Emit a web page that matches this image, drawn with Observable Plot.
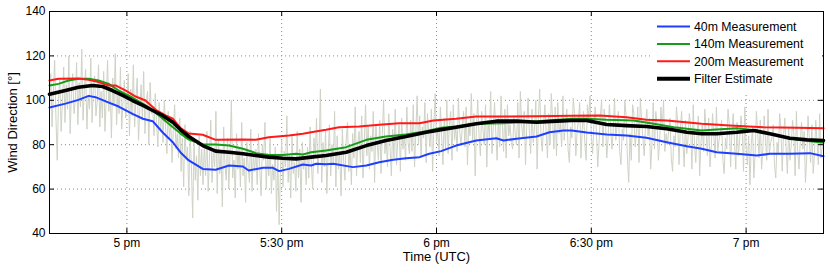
<!DOCTYPE html>
<html><head><meta charset="utf-8">
<script src="https://cdn.jsdelivr.net/npm/d3@7"></script>
<script src="https://cdn.jsdelivr.net/npm/@observablehq/plot@0.6"></script>
<style>body{margin:0;background:#fff}svg{display:block}</style>
</head><body><div id="chart"></div>
<script>
// ---- data (minutes after the start time, UTC) ----
const startTime = [16, 45];   // 4:45 pm UTC
const endTime = [19, 15];     // 7:15 pm UTC
const rawStepMin = 0.25;
const rawDirection = [
  95,112,88,104,118,92,73,101,110,86,99,115,90,107,96,120,85,103,112,94,
  100,117,89,108,97,123,91,105,114,87,102,96,119,90,106,111,93,100,116,88,
  104,92,113,86,101,118,95,107,83,110,98,121,89,103,94,115,87,100,109,92,
  97,112,84,105,93,116,88,101,110,82,96,107,91,113,85,99,104,80,108,94,
  97,84,103,90,79,99,86,94,81,100,88,76,95,83,91,72,87,98,78,85,
  74,92,68,83,61,89,73,79,57,86,70,47,82,64,75,55,84,66,78,62,
  80,66,86,59,74,91,63,78,70,95,58,82,67,76,52,88,71,64,83,60,
  77,100,65,73,56,85,69,79,61,90,66,74,54,81,70,63,87,59,76,68,
  78,62,85,69,57,80,73,90,60,76,66,83,58,71,64,79,50,74,44,68,
  82,61,77,70,93,63,75,56,84,67,72,59,86,65,78,54,81,69,74,62,
  79,65,88,71,60,83,74,92,67,78,105,63,81,70,86,58,76,89,66,80,
  72,95,61,84,69,77,57,87,73,64,82,90,68,79,62,85,74,97,66,81,
  86,72,93,65,81,98,75,88,69,84,77,95,63,89,80,73,91,67,85,100,
  76,83,70,94,79,66,87,74,96,71,82,89,68,92,78,85,73,97,81,76,
  91,77,98,70,86,102,80,93,74,88,83,99,72,94,85,79,96,68,90,103,
  81,87,75,97,84,71,92,78,100,76,89,95,73,98,82,88,77,101,86,80,
  88,95,79,97,71,90,84,103,82,94,66,89,100,84,75,95,87,80,98,70,
  91,83,104,76,88,99,85,73,93,79,102,90,77,96,74,98,84,89,81,78,
  93,85,80,99,74,104,89,83,95,71,90,101,85,76,96,81,88,100,69,92,
  105,84,77,89,98,86,74,94,80,103,91,78,97,75,99,85,90,79,102,82,
  90,96,78,72,88,83,101,94,75,86,91,99,74,87,95,80,73,98,92,102,
  84,76,89,97,85,70,81,93,100,79,96,90,74,83,98,88,78,86,101,82,
  89,95,77,71,87,82,100,93,74,63,85,73,98,94,79,86,97,72,101,91,
  83,75,88,96,84,92,69,80,99,78,95,89,73,82,97,87,100,77,85,80,
  86,92,74,68,84,79,97,90,71,87,95,82,70,91,76,83,94,88,69,98,
  80,72,85,93,66,81,89,77,96,86,75,92,70,79,94,84,74,97,77,82,
  85,91,73,67,83,78,96,89,70,86,94,81,69,90,75,82,93,87,68,97,
  79,71,84,62,80,88,65,76,95,85,74,91,69,78,93,83,73,96,76,81,
  83,89,71,65,81,76,94,87,68,84,92,79,67,88,73,80,91,85,66,95,
  77,69,82,90,78,86,63,74,93,83,72,89,67,76,91,81,71,94,74,79,80
];
const t40 = [0,3.1,5.6,7.6,8.9,10.9,13.4,16.1,18.1,20,21.9,23.9,25.4,27,29.7,32.2,34.8,37.5,38.6,41.4,43.3,44.5,46.4,49.1,50.7,51.7,53.6,55,58.8,61.4,63.9,66.6,69.1,71.7,73.6,75.9,78.8,82.7,86.6,88,90.5,94.4,96.9,99.6,101.2,104.1,108,111.8,115.7,119.6,123.5,126.4,129.3,133.2,137.1,139.6,143.5,147.4,150];
const v40 = [96.8,98.5,100.2,102,101.4,99.5,97.2,93.9,91.7,90.6,85.6,81.1,76.5,72.9,69.1,68.7,70.6,70.2,68.4,69.6,69.6,68.1,69.1,71.1,70.6,71.4,71.2,71.4,69.9,70.6,72.1,73.2,73.9,74.4,75.9,77.1,79.6,81.9,82.9,81.9,82.7,83.7,85.6,86.4,86.4,85.5,84.6,84.1,83.1,81.1,79.3,78.2,76.6,75.9,75.1,75.9,75.9,76.2,74.8];
const t140 = [0,1.75,3.7,5.6,7.6,9.5,11.5,13.4,15.3,17.3,19.2,21.2,23.1,25.4,27,29.7,32.2,34.8,37.5,40,42.5,45.2,47.8,49.1,50.7,53.6,57.5,61.4,65.2,69.1,73,75.9,78.8,82.7,88,94.4,101.2,104.1,108,113.2,117.1,121,126.4,129.3,133.2,137.1,141,144.9,150];
const v140 = [106.7,107.4,108.9,109.7,109.7,108.9,107.4,104.4,102.2,99.5,96.9,93.2,89.4,85,82.3,80.1,80.1,79.6,78.2,76.2,75.4,75.4,75.9,75.6,76.6,77.4,78.9,82.2,83.7,84.6,86.1,87.6,88.2,89.4,89.7,90.6,91.7,91.7,91.2,90.9,89.4,87.9,86.4,86.8,87.4,86.4,84.3,82.2,80.9];
const t200 = [0,1.75,5.6,7.6,9.5,11.5,12.8,14.8,16.7,18.6,20.6,22.5,23.9,25.4,27,29.7,32.2,37.5,40,42.5,46.4,49.1,50.7,53.6,56.1,60,63.9,67.8,71.7,74.4,78.8,82.7,88,94.4,101.2,106.6,111.8,115.7,119.6,126.4,131.8,138.4,144.9,150];
const v200 = [108.9,109.7,109.8,109.2,108.2,106.7,106.7,104.4,101.7,99.9,95.7,93.2,91.7,87.5,85,84.5,82.2,82.3,82.2,83.4,84.1,84.9,85.6,86.7,87.9,88.2,89,89.7,89.7,90.9,91.7,92.7,92.7,92.8,93,93.2,92.4,91.2,90.9,89.4,88.6,87.9,87.6,87.4];
const tFilter = [0,3.1,5.6,8.3,10.3,12.2,14.2,16.1,18.1,20,21.9,23.9,25.4,27,29.7,32.2,34.8,37.5,40,42.5,45.2,47.8,50.7,53.6,57.5,61.4,65.2,69.1,73,75.9,78.8,82.7,86.6,90.5,94.4,98.3,101.2,104.1,108,111.8,115.7,119.6,123.5,126.4,129.3,133.2,136.5,139.6,143.5,146.8,150];
const vFilter = [102.7,104.4,105.9,106.7,106.2,104.4,102.2,99.9,97.7,95.4,93.2,90.1,86.7,83.7,79.6,77.1,76.6,75.9,75.1,74.4,73.9,73.6,74.4,75.1,76.6,79.6,81.9,83.7,85.6,86.8,87.9,89.4,90.6,90.6,90.1,90.6,90.9,90.9,89.1,88.6,88.2,87.2,85.6,84.9,84.9,85.6,86.4,84.9,82.9,82.2,81.9];

const xTickTimes = [[17,0],[17,30],[18,0],[18,30],[19,0]];
const xTickLabels = ["5 pm","5:30 pm","6 pm","6:30 pm","7 pm"];
const yTicks = [40,60,80,100,120,140];
const yDomain = [40,140];
const seriesNames = ["40m Measurement","140m Measurement","200m Measurement","Filter Estimate"];
const seriesColors = ["#1f3fff","#169c16","#ff1a1a","#000000"];
const seriesWidths = [2,2,2,3.6];
const rawColor = "#cfd3c6";

// ---- build ----
const clock = ([h, m]) => new Date(Date.UTC(2013, 0, 1, h, m));
const t0 = clock(startTime), t1 = clock(endTime);
const at = (min) => new Date(+t0 + min * 60000);
const rows = (ts, vs) => ts.map((t, i) => ({t: at(t), v: vs[i]}));
const rawRows = rawDirection.map((v, i) => ({t: at(i * rawStepMin), v}));
const series = [rows(t40, v40), rows(t140, v140), rows(t200, v200), rows(tFilter, vFilter)];
const xTicks = xTickTimes.map(clock);
const labelOf = new Map(xTicks.map((d, i) => [+d, xTickLabels[i]]));

const W = 830, H = 274, mL = 49, mR = 7, mT = 11, mB = 41;
const tickPx = 5;
const yPerPx = (yDomain[1] - yDomain[0]) / (H - mT - mB);
const msPerPx = (t1 - t0) / (W - mL - mR);
const font = "'Liberation Sans', Arial, Helvetica, sans-serif";

const chart = Plot.plot({
  width: W, height: H,
  marginLeft: mL, marginRight: mR, marginTop: mT, marginBottom: mB,
  style: {fontFamily: font, fontSize: "12px", background: "#fff", color: "#000"},
  x: {type: "utc", domain: [t0, t1]},
  y: {domain: yDomain},
  marks: [
    Plot.gridX(xTicks, {stroke: "#8a8a8a", strokeOpacity: 1, strokeDasharray: "1,3"}),
    Plot.gridY(yTicks.slice(1, -1), {stroke: "#8a8a8a", strokeOpacity: 1, strokeDasharray: "1,3"}),
    Plot.line(rawRows, {x: "t", y: "v", stroke: rawColor, strokeWidth: 1}),
    ...series.map((s, i) => Plot.line(s, {x: "t", y: "v", stroke: seriesColors[i], strokeWidth: seriesWidths[i], strokeLinejoin: "round"})),
    Plot.ruleX(xTicks, {x: d => d, y1: yDomain[0], y2: yDomain[0] + tickPx * yPerPx, stroke: "#000", ariaLabel: "tickmarks"}),
    Plot.ruleX(xTicks, {x: d => d, y1: yDomain[1] - tickPx * yPerPx, y2: yDomain[1], stroke: "#000"}),
    Plot.ruleY(yTicks, {y: d => d, x1: t0, x2: new Date(+t0 + tickPx * msPerPx), stroke: "#000"}),
    Plot.ruleY(yTicks, {y: d => d, x1: new Date(+t1 - tickPx * msPerPx), x2: t1, stroke: "#000"}),
    Plot.frame({stroke: "#000"}),
    Plot.axisX(xTicks, {tickSize: 0, tickPadding: 5, tickFormat: d => labelOf.get(+d), label: null, fontSize: 12}),
    Plot.axisY(yTicks, {tickSize: 0, tickPadding: 4, label: null, fontSize: 12}),
    Plot.text(["Time (UTC)"], {frameAnchor: "bottom", lineAnchor: "middle", textAnchor: "middle", dy: 23, fontSize: 13}),
    Plot.text(["Wind Direction [°]"], {frameAnchor: "left", lineAnchor: "middle", textAnchor: "middle", rotate: -90, dx: -37, fontSize: 13})
  ]
});
document.getElementById("chart").appendChild(chart);

// ---- legend (inside plot, top-right) ----
const svg = d3.select(chart);
const lg = svg.insert("g", "g[aria-label='tickmarks']")
  .attr("font-family", font).attr("font-size", 12.3).attr("text-anchor", "start");
lg.append("rect").attr("x", 650).attr("y", 12).attr("width", 172).attr("height", 80).attr("fill", "#fff");
seriesNames.forEach((name, i) => {
  const y = 26.5 + i * 17.4;
  lg.append("line").attr("x1", 657).attr("x2", 690).attr("y1", y).attr("y2", y)
    .attr("stroke", seriesColors[i]).attr("stroke-width", seriesWidths[i] === 2 ? 2 : 4);
  lg.append("text").attr("x", 694).attr("y", y).attr("dy", "0.35em")
    .attr("text-anchor", "start").attr("fill", "#000").text(name);
});
</script>
</body></html>
